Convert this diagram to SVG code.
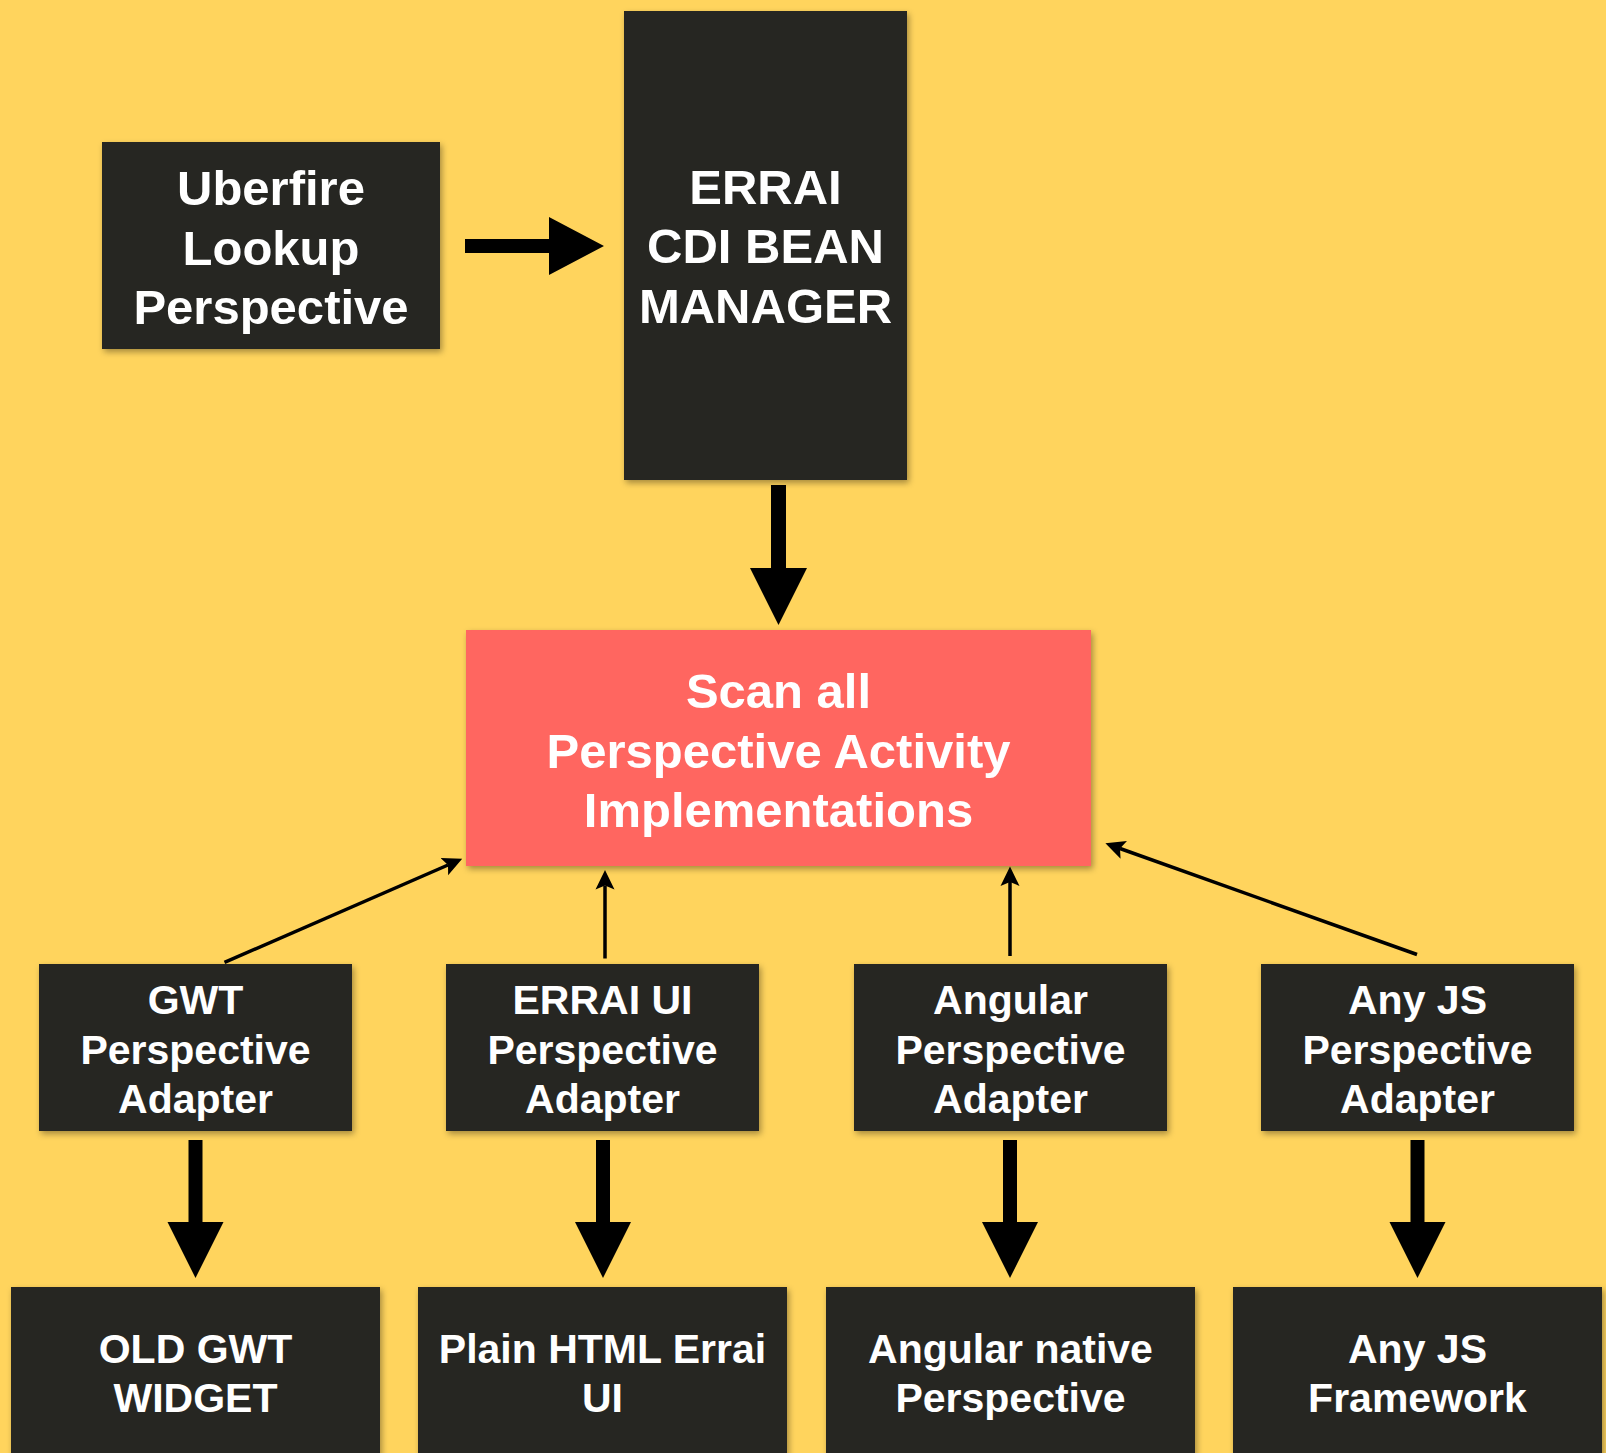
<svg xmlns="http://www.w3.org/2000/svg" width="1606" height="1453" viewBox="0 0 1606 1453">
  <style>
    .box { fill: #272722; filter: url(#shadow); }
    .red { fill: #FF6661; filter: url(#shadow); }
    .t { fill: #ffffff; font-family: "Liberation Sans", Arial, Helvetica, sans-serif; font-weight: bold; text-anchor: middle; }
    .big { font-size: 49px; }
    .small { font-size: 41px; }
    .thick { fill: #000000; }
    .thin { stroke: #000000; stroke-width: 3.5; fill: none; marker-end: url(#head); }
  </style>
  <defs>
    <filter id="shadow" x="-10%" y="-10%" width="125%" height="125%">
      <feDropShadow dx="2" dy="3" stdDeviation="3" flood-color="#000000" flood-opacity="0.35"/>
    </filter>
    <marker id="head" markerUnits="userSpaceOnUse" markerWidth="20" markerHeight="20" viewBox="0 -10 20 20" refX="4" refY="0" orient="auto">
      <path d="M0,-9.5 L19.5,0 L0,9.5 L4,0 z" fill="#000000"/>
    </marker>
  </defs>

  <rect x="0" y="0" width="1606" height="1453" fill="#FFD45D"/>

  <g id="connectors">
    <polygon class="thick" points="465,239 549,239 549,217 604,246 549,275 549,253 465,253"/>
    <polygon class="thick" points="771,485 786,485 786,568 807,568 778.5,625 750,568 771,568"/>
    <polygon class="thick" points="188.5,1140 202.5,1140 202.5,1222 223.5,1222 195.5,1278 167.5,1222 188.5,1222"/>
    <polygon class="thick" points="596,1140 610,1140 610,1222 631,1222 603,1278 575,1222 596,1222"/>
    <polygon class="thick" points="1003,1140 1017,1140 1017,1222 1038,1222 1010,1278 982,1222 1003,1222"/>
    <polygon class="thick" points="1410.5,1140 1424.5,1140 1424.5,1222 1445.5,1222 1417.5,1278 1389.5,1222 1410.5,1222"/>
    <line class="thin" x1="224.5" y1="962.4" x2="448" y2="865"/>
    <line class="thin" x1="605" y1="958.5" x2="605" y2="885.5"/>
    <line class="thin" x1="1010" y1="956" x2="1010" y2="882"/>
    <line class="thin" x1="1417" y1="954.5" x2="1120" y2="848.5"/>
  </g>

  <g id="uberfire">
    <rect class="box" x="102" y="142" width="338" height="207"/>
    <text class="t big" x="271" y="205">Uberfire</text>
    <text class="t big" x="271" y="265">Lookup</text>
    <text class="t big" x="271" y="324">Perspective</text>
  </g>

  <g id="errai-cdi">
    <rect class="box" x="624" y="11" width="283" height="469"/>
    <text class="t big" x="765.5" y="204">ERRAI</text>
    <text class="t big" x="765.5" y="263">CDI BEAN</text>
    <text class="t big" x="765.5" y="323">MANAGER</text>
  </g>

  <g id="scan">
    <rect class="red" x="466" y="630" width="625" height="236"/>
    <text class="t big" x="778.5" y="708">Scan all</text>
    <text class="t big" x="778.5" y="768">Perspective Activity</text>
    <text class="t big" x="778.5" y="827">Implementations</text>
  </g>

  <g id="gwt-adapter">
    <rect class="box" x="39" y="964" width="313" height="167"/>
    <text class="t small" x="195.5" y="1014">GWT</text>
    <text class="t small" x="195.5" y="1063.5">Perspective</text>
    <text class="t small" x="195.5" y="1112.5">Adapter</text>
  </g>

  <g id="errai-ui-adapter">
    <rect class="box" x="446" y="964" width="313" height="167"/>
    <text class="t small" x="602.5" y="1014">ERRAI UI</text>
    <text class="t small" x="602.5" y="1063.5">Perspective</text>
    <text class="t small" x="602.5" y="1112.5">Adapter</text>
  </g>

  <g id="angular-adapter">
    <rect class="box" x="854" y="964" width="313" height="167"/>
    <text class="t small" x="1010.5" y="1014">Angular</text>
    <text class="t small" x="1010.5" y="1063.5">Perspective</text>
    <text class="t small" x="1010.5" y="1112.5">Adapter</text>
  </g>

  <g id="anyjs-adapter">
    <rect class="box" x="1261" y="964" width="313" height="167"/>
    <text class="t small" x="1417.5" y="1014">Any JS</text>
    <text class="t small" x="1417.5" y="1063.5">Perspective</text>
    <text class="t small" x="1417.5" y="1112.5">Adapter</text>
  </g>

  <g id="old-gwt">
    <rect class="box" x="11" y="1287" width="369" height="180"/>
    <text class="t small" x="195.5" y="1363">OLD GWT</text>
    <text class="t small" x="195.5" y="1412">WIDGET</text>
  </g>

  <g id="plain-html">
    <rect class="box" x="418" y="1287" width="369" height="180"/>
    <text class="t small" x="602.5" y="1363">Plain HTML Errai</text>
    <text class="t small" x="602.5" y="1412">UI</text>
  </g>

  <g id="angular-native">
    <rect class="box" x="826" y="1287" width="369" height="180"/>
    <text class="t small" x="1010.5" y="1363">Angular native</text>
    <text class="t small" x="1010.5" y="1412">Perspective</text>
  </g>

  <g id="anyjs-framework">
    <rect class="box" x="1233" y="1287" width="369" height="180"/>
    <text class="t small" x="1417.5" y="1363">Any JS</text>
    <text class="t small" x="1417.5" y="1412">Framework</text>
  </g>
</svg>
